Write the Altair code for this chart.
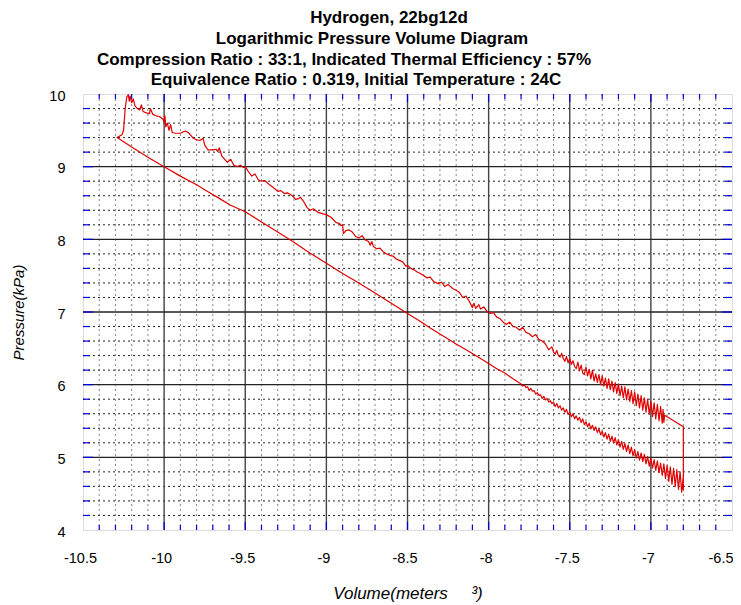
import altair as alt
import pandas as pd

# ---------------- data ----------------
TITLE_LINES = [
    "Hydrogen, 22bg12d",
    "Logarithmic Pressure Volume Diagram",
    "Compression Ratio : 33:1, Indicated Thermal Efficiency : 57%",
    "Equivalence Ratio : 0.319, Initial Temperature : 24C",
]
X_LABEL = "Volume(meters\u00a0\u00a0\u00a0\u00a0\u00a0\u00b3)"
Y_LABEL = "Pressure(kPa)"

X_LABEL_VALUES = [-10.5, -10, -9.5, -9, -8.5, -8, -7.5, -7, -6.5]
Y_LABEL_VALUES = [4, 5, 6, 7, 8, 9, 10]
X_MAJOR = [-10, -9.5, -9, -8.5, -8, -7.5, -7]
X_MINOR = [-10.4, -10.3, -10.2, -10.1, -9.9, -9.8, -9.7, -9.6, -9.4, -9.3, -9.2, -9.1,
           -8.9, -8.8, -8.7, -8.6, -8.4, -8.3, -8.2, -8.1, -7.9, -7.8, -7.7, -7.6,
           -7.4, -7.3, -7.2, -7.1, -6.9, -6.8, -6.7, -6.6]
Y_MAJOR = [5, 6, 7, 8, 9]
Y_MINOR = [4.2, 4.4, 4.6, 4.8, 5.2, 5.4, 5.6, 5.8, 6.2, 6.4, 6.6, 6.8, 7.2, 7.4, 7.6, 7.8,
           8.2, 8.4, 8.6, 8.8, 9.2, 9.4, 9.6, 9.8]

# compression stroke (lower curve), left to right
LOWER_V = [-10.29, -10.20, -10.10, -10.00, -9.90, -9.80, -9.74, -9.65, -9.59, -9.50,
           -9.40, -9.30, -9.20, -9.10, -9.00, -8.90, -8.80, -8.70, -8.60, -8.50,
           -8.42, -8.36, -8.28, -8.20, -8.10, -8.00, -7.95, -7.90, -7.85,
           -7.80, -7.79, -7.78, -7.77, -7.76, -7.75, -7.74, -7.73, -7.72, -7.71,
           -7.70, -7.69, -7.68, -7.67, -7.66, -7.65, -7.64, -7.63, -7.62, -7.61,
           -7.60, -7.59, -7.58, -7.57, -7.56, -7.55, -7.54, -7.53, -7.52, -7.51,
           -7.50, -7.49, -7.48, -7.47, -7.46, -7.45, -7.44, -7.43, -7.42, -7.41,
           -7.40, -7.39, -7.38, -7.37, -7.36, -7.35, -7.34, -7.33, -7.32, -7.31,
           -7.30, -7.29, -7.28, -7.27, -7.26, -7.25, -7.24, -7.23, -7.22, -7.21,
           -7.20, -7.19, -7.18, -7.17, -7.16, -7.15, -7.14, -7.13, -7.12, -7.11,
           -7.10, -7.09, -7.08, -7.07, -7.06, -7.05, -7.04, -7.03, -7.02, -7.01,
           -7.00, -6.99, -6.98, -6.97, -6.96, -6.95, -6.94, -6.93, -6.92, -6.91,
           -6.90, -6.89, -6.88, -6.87, -6.86, -6.85, -6.84, -6.83, -6.82, -6.81,
           -6.80]
LOWER_P = [9.40, 9.27, 9.13, 9.00, 8.87, 8.75, 8.67, 8.55, 8.47, 8.38,
           8.24, 8.10, 7.96, 7.81, 7.67, 7.53, 7.40, 7.26, 7.12, 6.98,
           6.87, 6.78, 6.67, 6.56, 6.43, 6.29, 6.22, 6.16, 6.08,
           6.01, 5.98, 6.00, 5.96, 5.97, 5.92, 5.95, 5.91, 5.92, 5.87,
           5.89, 5.85, 5.86, 5.81, 5.84, 5.79, 5.81, 5.76, 5.78, 5.74,
           5.76, 5.70, 5.74, 5.68, 5.71, 5.65, 5.68, 5.62, 5.66, 5.59,
           5.62, 5.56, 5.60, 5.53, 5.57, 5.51, 5.55, 5.48, 5.53, 5.45,
           5.49, 5.42, 5.47, 5.39, 5.44, 5.37, 5.42, 5.34, 5.39, 5.31,
           5.36, 5.28, 5.34, 5.25, 5.32, 5.22, 5.29, 5.20, 5.27, 5.17,
           5.24, 5.14, 5.22, 5.11, 5.19, 5.08, 5.17, 5.05, 5.14, 5.02,
           5.11, 4.99, 5.08, 4.96, 5.06, 4.94, 5.04, 4.91, 5.01, 4.88,
           4.99, 4.85, 4.97, 4.82, 4.95, 4.79, 4.92, 4.75, 4.91, 4.71,
           4.89, 4.67, 4.87, 4.63, 4.85, 4.60, 4.83, 4.56, 4.80, 4.52,
           4.75]

# expansion stroke (upper curve), left to right
UPPER_V = [-10.29, -10.26, -10.25, -10.24, -10.23, -10.22, -10.215, -10.21, -10.20, -10.19,
           -10.18, -10.165, -10.15, -10.14, -10.13, -10.11, -10.09, -10.085, -10.07, -10.05,
           -10.03, -10.01, -10.00, -9.995, -9.99, -9.98, -9.97, -9.96, -9.95, -9.93,
           -9.90, -9.87, -9.85, -9.82, -9.80, -9.78, -9.76, -9.75, -9.73, -9.70,
           -9.68, -9.67, -9.66, -9.645, -9.63, -9.61, -9.59, -9.57, -9.55, -9.53,
           -9.51, -9.50, -9.48, -9.46, -9.44, -9.42, -9.40, -9.38, -9.35, -9.32,
           -9.30, -9.28, -9.26, -9.24, -9.21, -9.19, -9.17, -9.16, -9.14, -9.12,
           -9.10, -9.08, -9.05, -9.02, -9.00, -8.97, -8.94, -8.92, -8.91, -8.90,
           -8.895, -8.88, -8.86, -8.84, -8.82, -8.80, -8.78, -8.76, -8.74, -8.73,
           -8.72, -8.71, -8.69, -8.67, -8.65, -8.63, -8.61, -8.59, -8.57, -8.55,
           -8.53, -8.51, -8.50, -8.48, -8.46, -8.44, -8.42, -8.40, -8.38, -8.36,
           -8.34, -8.31, -8.29, -8.27, -8.25, -8.22, -8.20, -8.18, -8.16, -8.14,
           -8.12, -8.10, -8.09, -8.08, -8.06, -8.05, -8.03, -8.01, -7.99, -7.97,
           -7.95, -7.93, -7.91, -7.89, -7.87, -7.85, -7.83, -7.81, -7.79, -7.77,
           -7.75, -7.73, -7.71, -7.69, -7.67, -7.65, -7.63, -7.61,
           -7.60, -7.59, -7.58, -7.57, -7.56, -7.55, -7.54, -7.53, -7.52, -7.51,
           -7.50, -7.49, -7.48, -7.47, -7.46, -7.45, -7.44, -7.43, -7.42, -7.41,
           -7.40, -7.39, -7.38, -7.37, -7.36, -7.35, -7.34, -7.33, -7.32, -7.31,
           -7.30, -7.29, -7.28, -7.27, -7.26, -7.25, -7.24, -7.23, -7.22, -7.21,
           -7.20, -7.19, -7.18, -7.17, -7.16, -7.15, -7.14, -7.13, -7.12, -7.11,
           -7.10, -7.09, -7.08, -7.07, -7.06, -7.05, -7.04, -7.03, -7.02, -7.01,
           -7.00, -6.99, -6.98, -6.97, -6.96, -6.95, -6.94, -6.93, -6.925, -6.92,
           -6.915]
UPPER_P = [9.40, 9.44, 9.50, 9.80, 9.96, 9.99, 9.90, 9.97, 9.88, 9.93,
           9.84, 9.80, 9.78, 9.85, 9.76, 9.74, 9.73, 9.80, 9.72, 9.70,
           9.69, 9.66, 9.62, 9.70, 9.55, 9.60, 9.50, 9.58, 9.47, 9.46,
           9.46, 9.49, 9.47, 9.39, 9.37, 9.36, 9.39, 9.30, 9.23, 9.23,
           9.24, 9.21, 9.26, 9.15, 9.11, 9.06, 9.10, 9.02, 9.00, 9.02,
           8.99, 9.00, 8.93, 8.87, 8.90, 8.82, 8.80, 8.81, 8.75, 8.70,
           8.66, 8.67, 8.63, 8.64, 8.60, 8.55, 8.56, 8.58, 8.52, 8.44,
           8.40, 8.42, 8.37, 8.35, 8.34, 8.30, 8.23, 8.22, 8.19, 8.20,
           8.08, 8.12, 8.13, 8.10, 8.04, 8.02, 8.05, 7.99, 7.97, 7.92,
           7.97, 7.90, 7.87, 7.88, 7.83, 7.80, 7.78, 7.77, 7.73, 7.71,
           7.69, 7.63, 7.64, 7.60, 7.58, 7.55, 7.53, 7.50, 7.47, 7.48,
           7.42, 7.39, 7.41, 7.35, 7.38, 7.32, 7.30, 7.27, 7.20, 7.22,
           7.15, 7.06, 7.12, 7.05, 7.10, 7.04, 7.07, 7.01, 6.98, 6.99,
           6.93, 6.91, 6.86, 6.83, 6.86, 6.80, 6.79, 6.75, 6.79, 6.72,
           6.70, 6.66, 6.69, 6.62, 6.60, 6.56, 6.48, 6.52,
           6.45, 6.42, 6.47, 6.40, 6.38, 6.43, 6.36, 6.32, 6.39, 6.30,
           6.36, 6.28, 6.33, 6.25, 6.22, 6.31, 6.19, 6.27, 6.16, 6.14,
           6.24, 6.12, 6.21, 6.08, 6.20, 6.05, 6.15, 6.03, 6.14, 6.00,
           6.12, 5.98, 6.09, 5.95, 6.08, 5.93, 6.05, 5.90, 6.03, 5.88,
           6.01, 5.85, 5.98, 5.82, 5.97, 5.79, 5.94, 5.77, 5.92, 5.74,
           5.90, 5.71, 5.87, 5.68, 5.85, 5.65, 5.82, 5.62, 5.80, 5.59,
           5.77, 5.56, 5.75, 5.53, 5.73, 5.50, 5.70, 5.47, 5.66, 5.48,
           5.58]

# exhaust / closing segment
END_V = [-6.80, -6.80]
END_P = [5.42, 4.55]

# ---------------- build the path in drawing order ----------------
path_v = list(reversed(LOWER_V)) + UPPER_V[1:] + END_V
path_p = list(reversed(LOWER_P)) + UPPER_P[1:] + END_P
curve_df = pd.DataFrame({"v": path_v, "p": path_p, "i": list(range(len(path_v)))})

W, H = 649, 436
FONT = "Liberation Sans"
BLUE = "#0000dd"

xs = alt.Scale(domain=[-10.5, -6.5], nice=False, zero=False)
ys = alt.Scale(domain=[4, 10], nice=False, zero=False)

xaxis = alt.Axis(
    values=X_LABEL_VALUES, labelExpr="toString(datum.value)", ticks=False, tickSize=0,
    domain=False, grid=False, labelFont=FONT, labelFontSize=14.5, labelColor="black",
    labelPadding=21, labelFlush=False, labelOverlap=False,
    labelAlign={"condition": {"test": "datum.value == -6.5", "value": "right"}, "value": "center"},
    labelOffset={"condition": {"test": "datum.value == -6.5", "value": 1}, "value": -3},
    title=X_LABEL, titleFont=FONT, titleFontSize=17, titleFontStyle="italic",
    titleFontWeight="normal", titleColor="black", titleX=W / 2, titleY=68,
    titleBaseline="alphabetic", titleAnchor="middle",
)
yaxis = alt.Axis(
    values=Y_LABEL_VALUES, labelExpr="toString(datum.value)", ticks=False, tickSize=0,
    domain=False, grid=False, labelFont=FONT, labelFontSize=14.5, labelColor="black",
    labelPadding=18, labelOffset=2, labelFlush=False, labelOverlap=False,
    title=Y_LABEL, titleFont=FONT, titleFontSize=15, titleFontStyle="italic",
    titleFontWeight="normal", titleColor="black", titleX=-65, titleY=H / 2,
    titleBaseline="middle", titleAngle=270, titleAnchor="middle",
)

def X(field="v"):
    return alt.X(f"{field}:Q", scale=xs, axis=xaxis)

def Y(field="p"):
    return alt.Y(f"{field}:Q", scale=ys, axis=yaxis)

xmin_df = pd.DataFrame({"v": X_MINOR})
xmaj_df = pd.DataFrame({"v": X_MAJOR})
ymin_df = pd.DataFrame({"p": Y_MINOR})
ymaj_df = pd.DataFrame({"p": Y_MAJOR})

layers = []
# minor dotted grid
layers.append(alt.Chart(xmin_df).mark_rule(color="#888888", strokeWidth=1, strokeDash=[2, 3]).encode(
    x=X(), y=alt.value(0), y2=alt.value(H)))
layers.append(alt.Chart(ymin_df).mark_rule(color="#222222", strokeWidth=1, strokeDash=[2, 3]).encode(
    y=Y(), x=alt.value(0), x2=alt.value(W)))
# major solid grid
layers.append(alt.Chart(xmaj_df).mark_rule(color="#444444", strokeWidth=1.4).encode(
    x=X(), y=alt.value(0), y2=alt.value(H)))
layers.append(alt.Chart(ymaj_df).mark_rule(color="#222222", strokeWidth=1.3).encode(
    y=Y(), x=alt.value(0), x2=alt.value(W)))

# blue inner ticks on all four sides
for df, L in ((xmin_df, 5), (xmaj_df, 8)):
    layers.append(alt.Chart(df).mark_rule(color=BLUE, strokeWidth=1.2).encode(
        x=X(), y=alt.value(H), y2=alt.value(H - L)))
    layers.append(alt.Chart(df).mark_rule(color=BLUE, strokeWidth=1.2).encode(
        x=X(), y=alt.value(0), y2=alt.value(L)))
for df, L in ((ymin_df, 7), (ymaj_df, 10)):
    layers.append(alt.Chart(df).mark_rule(color=BLUE, strokeWidth=1.2).encode(
        y=Y(), x=alt.value(0), x2=alt.value(L)))
    layers.append(alt.Chart(df).mark_rule(color=BLUE, strokeWidth=1.2).encode(
        y=Y(), x=alt.value(W), x2=alt.value(W - L)))

# the p-V loop
layers.append(alt.Chart(curve_df).mark_line(color="#e00000", strokeWidth=1.2, strokeJoin="round").encode(
    x=X(), y=Y(), order="i:Q"))

# title lines (each centred where the original has it)
TITLE_POS = [(306, -76), (289, -55), (261, -34), (273, -14)]
for line, (tx, ty) in zip(TITLE_LINES, TITLE_POS):
    layers.append(alt.Chart(pd.DataFrame({"t": [line]})).mark_text(
        font=FONT, fontSize=17, fontWeight="bold", color="black", align="center", baseline="middle"
    ).encode(text="t:N", x=alt.value(tx), y=alt.value(ty)))

chart = alt.layer(*layers).properties(
    width=W, height=H,
    autosize=alt.AutoSizeParams(type="none"),
    padding={"left": 75, "top": 86, "right": 1, "bottom": 72},
).configure_view(stroke=BLUE, strokeWidth=1.5).configure(background="white")

chart.save("out.html", embed_options={"renderer": "svg", "actions": False})
